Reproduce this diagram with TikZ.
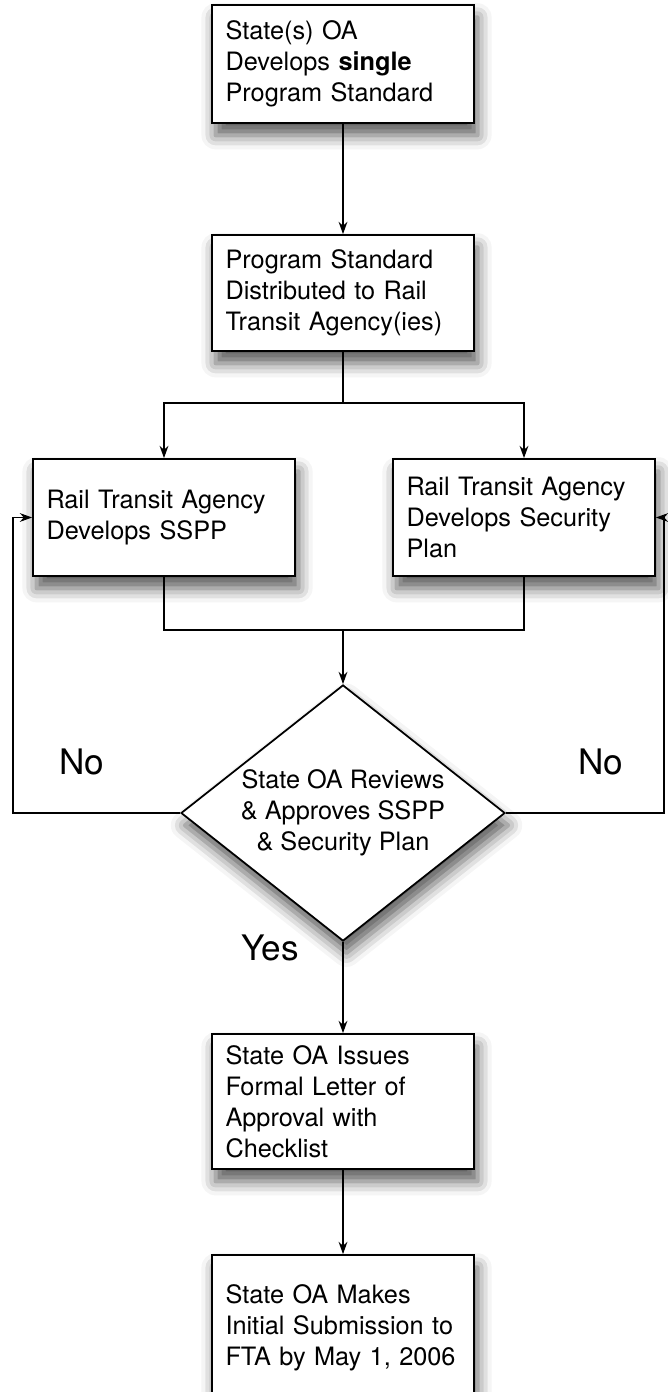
\documentclass[tikz,border=0pt]{standalone}
\usepackage{fontspec}
\setmainfont{TeX Gyre Heros}
\usetikzlibrary{arrows.meta,shapes.geometric,shadows.blur}

\begin{document}
\begin{tikzpicture}[
  >={Stealth[length=7pt,width=5pt]},
  line width=0.8pt,
  stepbox/.style={draw,line width=1pt,fill=white,rectangle,text width=4.7cm,inner xsep=0.27cm,
    minimum height=#1,align=left,font=\fontsize{14.4}{17.6}\selectfont,
    blur shadow={shadow xshift=2pt,shadow yshift=-7pt,shadow blur radius=8pt,shadow opacity=65}},
  stepbox/.default=2.34cm,
  choice/.style={draw,line width=1pt,fill=white,diamond,inner sep=0pt,aspect=1.27,
    minimum width=6.48cm,minimum height=5.12cm,align=center,font=\fontsize{14.4}{17.6}\selectfont,
    blur shadow={shadow xshift=2pt,shadow yshift=-7pt,shadow blur radius=8pt,shadow opacity=65}},
  answer/.style={font=\fontsize{20}{24}\selectfont}
]
\useasboundingbox (0,0) rectangle (13.34,-27.84);
\node [stepbox=2.36cm] (standard) at (6.86,-1.28) {State(s) OA\\Develops \textbf{single}\\Program Standard};
\node [stepbox=2.32cm] (distrib) at (6.86,-5.86) {Program Standard\\Distributed to Rail\\Transit Agency(ies)};
\node [stepbox] (sspp) at (3.28,-10.35) {Rail Transit Agency\\Develops SSPP};
\node [stepbox] (secplan) at (10.48,-10.35) {Rail Transit Agency\\Develops Security\\Plan};
\node [choice] (review) at (6.86,-16.26) {State OA Reviews\\\& Approves SSPP\\\& Security Plan};
\node [stepbox=2.7cm] (letter) at (6.86,-22.03) {State OA Issues\\Formal Letter of\\Approval with\\Checklist};
\node [stepbox=2.9cm] (submit) at (6.86,-26.55) {State OA Makes\\Initial Submission to\\FTA by May 1, 2006};
\coordinate (split) at (6.86,-8.06);
\coordinate (join) at (6.86,-12.6);
\coordinate (backl) at (0.26,-16.26);
\coordinate (backr) at (13.28,-16.26);
\draw [->] (standard) -- (distrib);
\draw (distrib.south) -- (split);
\draw [->] (split) -| (sspp.north);
\draw [->] (split) -| (secplan.north);
\draw (sspp.south) |- (join) -| (secplan.south);
\draw [->] (join) -- (review.north);
\draw [->] (review.west) -- (backl) |- (sspp.west);
\draw [->] (review.east) -- (backr) |- (secplan.east);
\draw [->] (review.south) -- (letter.north);
\draw [->] (letter.south) -- (submit.north);
\node [answer] (nol) at (1.64,-15.24) {No};
\node [answer] (nor) at (12.02,-15.24) {No};
\node [answer] (yes) at (5.4,-18.96) {Yes};
\end{tikzpicture}
\end{document}
